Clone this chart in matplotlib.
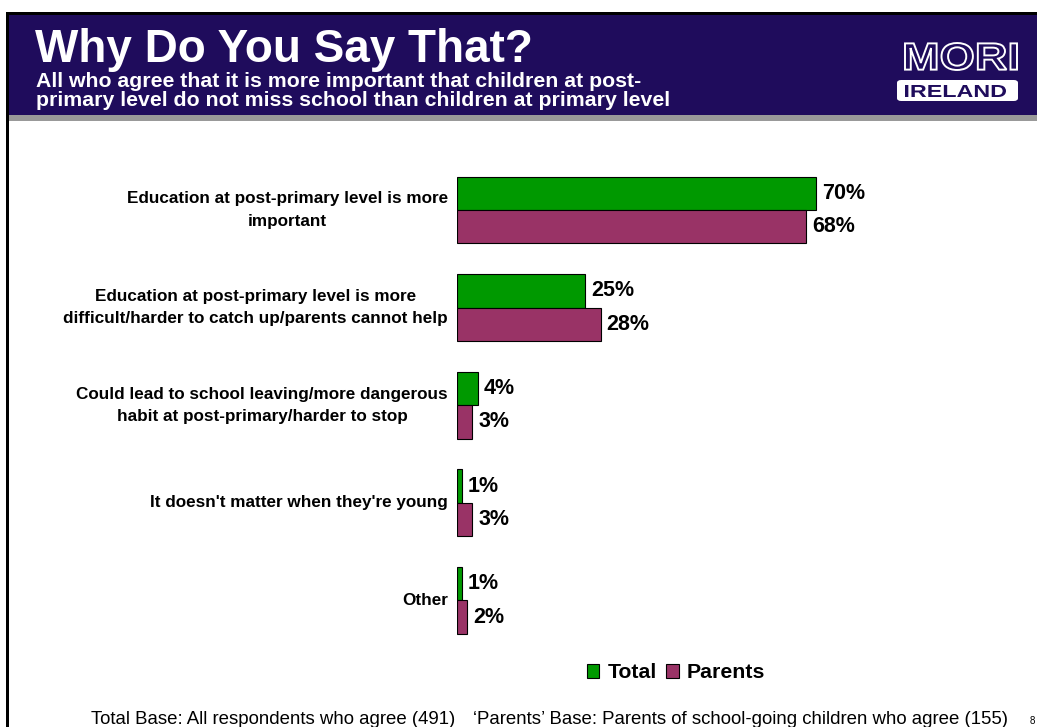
import matplotlib
matplotlib.use('Agg')
import matplotlib.pyplot as plt
from matplotlib.patches import Rectangle, FancyBboxPatch, Patch, PathPatch
from matplotlib.textpath import TextPath
from matplotlib.font_manager import FontProperties
from matplotlib.transforms import Affine2D
import numpy as np

plt.rcParams['font.family'] = ['Liberation Sans', 'DejaVu Sans']

categories = ['Education at post-primary level is more\nimportant',
              'Education at post-primary level is more\ndifficult/harder to catch up/parents cannot help',
              'Could lead to school leaving/more dangerous\nhabit at post-primary/harder to stop',
              "It doesn't matter when they're young",
              'Other']
total = [70, 25, 4, 1, 1]
parents = [68, 28, 3, 3, 2]
series_names = ['Total', 'Parents']

navy = '#1f0c5c'
green = '#009900'
plum = '#993366'

W, H = 1037, 727
fig = plt.figure(figsize=(W / 100, H / 100), dpi=100)

def fx(x):
    return x / W

def fy(y):
    return 1 - y / H

def logo_text(s, x0, y0, x1, y1, **kw):
    # squeeze a bold text outline into a pixel box (top-left origin)
    tp = TextPath((0, 0), s, size=100, prop=FontProperties(family='Liberation Sans', weight='bold'))
    ext = tp.get_extents()
    tr = (Affine2D().translate(-ext.x0, -ext.y0)
          .scale((x1 - x0) / ext.width, (y1 - y0) / ext.height)
          .translate(x0, H - y1))
    fig.patches.append(PathPatch(tp, transform=tr, **kw))

# header band + frame
fig.patches.append(Rectangle((fx(9), fy(115)), fx(W - 9), 100 / H, transform=fig.transFigure,
                             facecolor=navy, edgecolor='none'))
fig.patches.append(Rectangle((fx(9), fy(121)), fx(W - 9), 6 / H, transform=fig.transFigure,
                             facecolor='#999999', edgecolor='none'))
fig.patches.append(Rectangle((fx(6), fy(15)), fx(W - 6), 3 / H, transform=fig.transFigure,
                             facecolor='black', edgecolor='none'))
fig.patches.append(Rectangle((fx(6), 0), fx(3), fy(13), transform=fig.transFigure,
                             facecolor='black', edgecolor='none'))

fig.text(fx(35), fy(61.5), 'Why Do You Say That?', color='white', fontsize=33,
         fontweight='bold', va='baseline', ha='left')
fig.text(fx(36), fy(87), 'All who agree that it is more important that children at post-',
         color='white', fontsize=15.3, fontweight='bold', va='baseline', ha='left')
fig.text(fx(36), fy(106), 'primary level do not miss school than children at primary level',
         color='white', fontsize=15.3, fontweight='bold', va='baseline', ha='left')

# logo
logo_text('MORI', 905, 43, 1017, 70, facecolor=navy, edgecolor='white', linewidth=1.4)
fig.patches.append(FancyBboxPatch((fx(897), fy(101)), fx(121), 21 / H,
                                  boxstyle='round,pad=0,rounding_size=0.004',
                                  transform=fig.transFigure, facecolor='white', edgecolor='none'))
logo_text('IRELAND', 905, 85, 1006, 97, facecolor=navy, edgecolor='none')

# chart
px_per_pct = 5.13
ax = fig.add_axes([fx(457), fy(649.3), 520 / W, 488.1 / H])
ax.set_xlim(0, 520 / px_per_pct)
ax.set_ylim(4.5, -0.5)
ax.axis('off')

y = np.arange(len(categories))
h = 0.343
ax.barh(y - h / 2, total, height=h, color=green, edgecolor='black', linewidth=0.8)
ax.barh(y + h / 2, parents, height=h, color=plum, edgecolor='black', linewidth=0.8)

for i in range(len(categories)):
    ax.annotate(f'{total[i]}%', xy=(total[i], y[i] - h / 2), xytext=(4.3, 0),
                textcoords='offset points', ha='left', va='center',
                fontsize=15.5, fontweight='bold')
    ax.annotate(f'{parents[i]}%', xy=(parents[i], y[i] + h / 2), xytext=(4.3, 0),
                textcoords='offset points', ha='left', va='center',
                fontsize=15.5, fontweight='bold')
    ax.annotate(categories[i], xy=(0, y[i]), xytext=(-6.5, 0), textcoords='offset points',
                ha='right', va='center', multialignment='center', linespacing=1.6,
                fontsize=12.3, fontweight='bold')

handles = [Patch(facecolor=green, edgecolor='black', linewidth=0.8),
           Patch(facecolor=plum, edgecolor='black', linewidth=0.8)]
fig.legend(handles, series_names, loc='center', bbox_to_anchor=(fx(676), fy(673)),
           ncol=2, frameon=False, handlelength=0.6, handleheight=0.6,
           handletextpad=0.38, columnspacing=0.45,
           prop={'size': 15.3, 'weight': 'bold'})

# footer
fig.text(fx(91), fy(724), 'Total Base: All respondents who agree (491)', fontsize=13.4,
         va='baseline', ha='left')
fig.text(fx(473), fy(724), '\u2018Parents\u2019 Base: Parents of school-going children who agree (155)',
         fontsize=13.4, va='baseline', ha='left')
fig.text(fx(1030), fy(724), '8', fontsize=7, va='baseline', ha='left')

fig.savefig('out.png', dpi=100)
